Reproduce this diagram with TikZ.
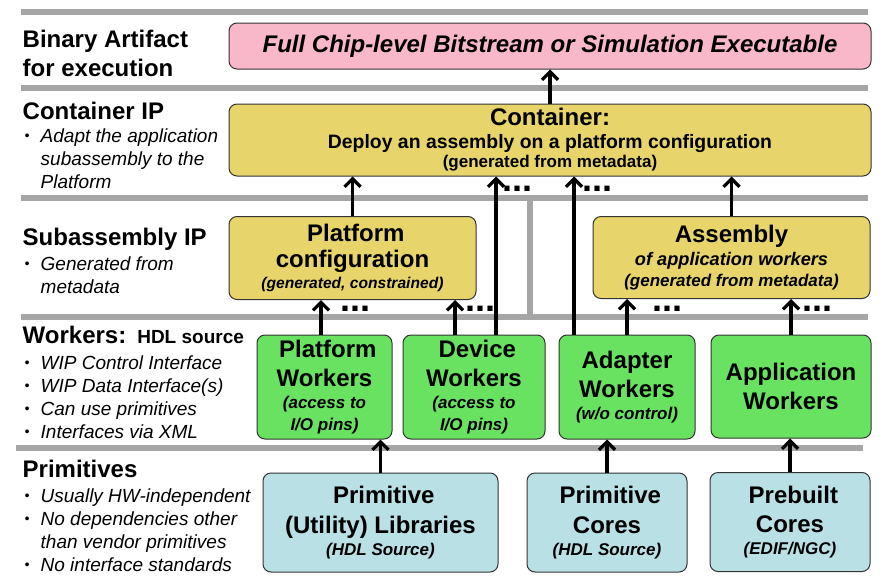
\documentclass[tikz,border=0pt]{standalone}
\usepackage{fontspec}
\setmainfont{Liberation Sans}
\usepackage{tikz}
\usetikzlibrary{arrows.meta}
\usetikzlibrary{positioning}

\definecolor{barg}{HTML}{A6A6A6}
\definecolor{pinkf}{HTML}{F8B8CA}
\definecolor{yelf}{HTML}{E7D46B}
\definecolor{grnf}{HTML}{68E260}
\definecolor{bluf}{HTML}{B8E0E5}

\newcommand{\bigtxt}[1][29]{\fontsize{24}{#1}\selectfont\bfseries}
\newcommand{\subtxt}[1][22]{\fontsize{17}{#1}\selectfont\bfseries\itshape}
\newcommand{\bultxt}{\fontsize{19}{23}\selectfont\itshape}
\newcommand{\bul}{\makebox[16pt][l]{\raisebox{2pt}{\fontsize{14}{14}\selectfont\textbullet}}}
\newcommand{\nobul}{\hspace{16pt}}

\tikzset{>=latex}
\tikzset{
  bar/.style = {draw=barg, line width=6.7pt},
  box/.style = {draw=black!80, line width=1pt, rounded corners=8pt, align=flush center, inner sep=0pt,
                execute at begin node={\spaceskip=0pt\xspaceskip=0pt\relax}},
  blk/.style 2 args = {box, minimum width=#1, text width=#1, minimum height=#2},
  up/.style = {-{Straight Barb[length=8pt, width=16pt]}, line width=3.2pt, draw=black},
  lbl/.style = {anchor=base west, inner sep=0pt, align=left},
  dots/.style = {anchor=base west, inner sep=0pt, text height=6pt, text depth=0pt,
                 font=\fontsize{36}{36}\selectfont\bfseries}
}

\begin{document}
\begin{tikzpicture}[x=1pt, y=-1pt]
\useasboundingbox (0,0) rectangle (891,581);

% layer separators
\foreach \yy in {12,88,198,317} \draw[bar] (21,\yy) -- (868,\yy);
\draw[bar] (16,448) -- (863,448);
\draw[bar] (530,198) -- (530,317);

% layer names
\node[lbl] (hbin) at (22.5,47) {\bigtxt\begin{tabular}[t]{@{}l@{}}Binary Artifact\\for execution\end{tabular}};
\node[lbl] (hcont) at (22.5,119) {\bigtxt Container IP};
\node[lbl] (bcont) at (24.5,142) {\bultxt\begin{tabular}[t]{@{}l@{}}\bul Adapt the application\\\nobul subassembly to the\\\nobul Platform\end{tabular}};
\node[lbl] (hsub) at (22.5,245) {\bigtxt Subassembly IP};
\node[lbl] (bsub) at (24.5,270) {\bultxt\begin{tabular}[t]{@{}l@{}}\bul Generated from\\\nobul metadata\end{tabular}};
\node[lbl] (hwk) at (22.5,343) {\bigtxt Workers:\hspace{11pt}{\fontsize{19}{22}\selectfont HDL source}};
\node[lbl] (bwk) at (24.5,369) {\bultxt\begin{tabular}[t]{@{}l@{}}\bul WIP Control Interface\\\bul WIP Data Interface(s)\\\bul Can use primitives\\\bul Interfaces via XML\end{tabular}};
\node[lbl] (hprim) at (22.5,477) {\bigtxt Primitives};
\node[lbl] (bprim) at (24.5,502) {\bultxt\begin{tabular}[t]{@{}l@{}}\bul Usually HW-independent\\\bul No dependencies other\\\nobul than vendor primitives\\\bul No interface standards\end{tabular}};

% blocks
\node[blk={642pt}{46pt}, fill=pinkf] (pink) at (550,46) {\fontsize{24}{29}\selectfont\bfseries\itshape Full Chip-level Bitstream or Simulation Executable};
\node[blk={642pt}{72pt}, fill=yelf] (container) at (550,140) {{\bigtxt Container:\par}{\fontsize{19.4}{23}\selectfont\bfseries Deploy an assembly on a platform configuration\par}{\fontsize{17}{19}\selectfont\bfseries (generated from metadata)\par}};
\node[blk={247pt}{83pt}, fill=yelf] (platcfg) at (352.5,258) {{\bigtxt[26] Platform\\configuration\par}{\fontsize{15.6}{21}\selectfont\bfseries\itshape (generated, constrained)\par}};
\node[blk={277pt}{82pt}, fill=yelf] (assembly) at (731.5,257.5) {{\bigtxt Assembly\par}{\fontsize{18.2}{23}\selectfont\bfseries\itshape of application workers\par}{\subtxt[21] (generated from metadata)\par}};
\node[blk={135pt}{104pt}, fill=grnf] (platwk) at (324.5,387) {{\bigtxt[28.5] Platform\\Workers\par}{\subtxt (access to\\I/O pins)\par}};
\node[blk={142pt}{104pt}, fill=grnf] (devwk) at (474,387) {{\bigtxt[28.5] Device\\Workers\par}{\subtxt (access to\\I/O pins)\par}};
\node[blk={136pt}{104pt}, fill=grnf] (adapwk) at (627,387) {{\bigtxt Adapter\\Workers\par}{\subtxt (w/o control)\par}};
\node[blk={160pt}{103pt}, fill=grnf] (appwk) at (791,386.5) {{\bigtxt Application\\Workers\par}};
\node[blk={235pt}{99pt}, fill=bluf] (primlib) at (380.5,522.5) {{\bigtxt[30] Primitive\\(Utility) Libraries\par}{\subtxt (HDL Source)\par}};
\node[blk={160pt}{99pt}, fill=bluf] (primcore) at (607,522.5) {{\bigtxt[30] Primitive\\Cores\par}{\subtxt (HDL Source)\par}};
\node[blk={160pt}{99pt}, fill=bluf] (prebuilt) at (790,522) {{\bigtxt[29] Prebuilt\\Cores\par}{\subtxt (EDIF/NGC)\par}};

% dependencies
\coordinate (dv1) at ([xshift=22pt]devwk.north);
\coordinate (ad1) at ([xshift=-53pt]adapwk.north);
\coordinate (pw1) at ([xshift=-3.5pt]platwk.north);
\coordinate (dv2) at ([xshift=-19pt]devwk.north);
\draw[up] (container.north) -- (pink.south);
\draw[up] (platcfg.north) -- (platcfg.north |- container.south);
\draw[up] (dv1) -- (dv1 |- container.south);
\draw[up] (ad1) -- (ad1 |- container.south);
\draw[up] (assembly.north) -- (assembly.north |- container.south);
\draw[up] (pw1) -- (pw1 |- platcfg.south);
\draw[up] (dv2) -- (dv2 |- platcfg.south);
\draw[up] (adapwk.north) -- (adapwk.north |- assembly.south);
\draw[up] (appwk.north) -- (appwk.north |- assembly.south);
\draw[up] (primlib.north) -- (primlib.north |- platwk.south);
\draw[up] (primcore.north) -- (primcore.north |- adapwk.south);
\draw[up] (prebuilt.north) -- (prebuilt.north |- appwk.south);

% more of the same
\node[dots] (dt1) at (502.5,191.5) {...};
\node[dots] (dt2) at (582.5,191.5) {...};
\node[dots] (dt3) at (340.5,311) {...};
\node[dots] (dt4) at (465.5,311) {...};
\node[dots] (dt5) at (652.5,311) {...};
\node[dots] (dt6) at (802.5,311) {...};
\end{tikzpicture}
\end{document}
